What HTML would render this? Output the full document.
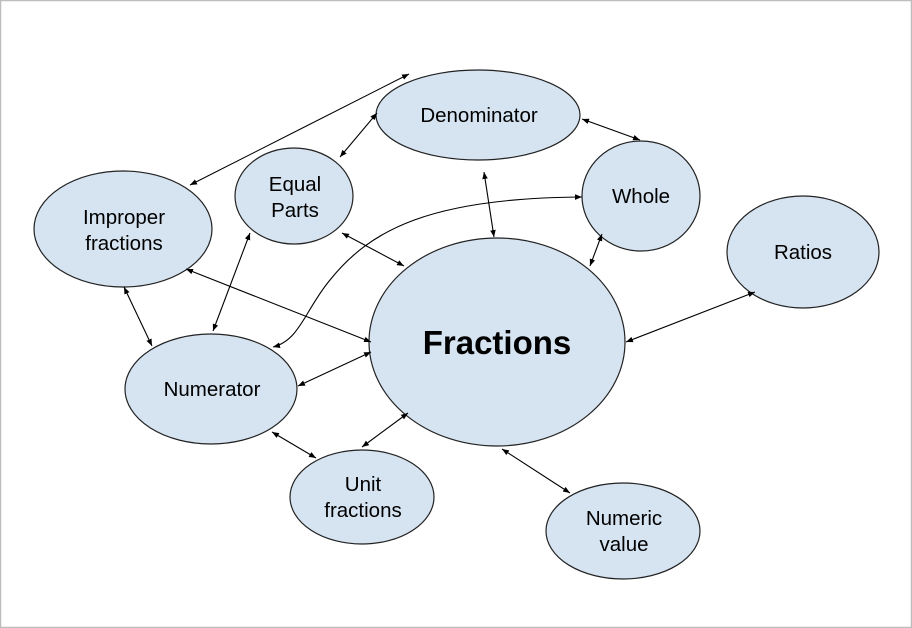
<!DOCTYPE html>
<html><head><style>
html,body{margin:0;padding:0;background:#fff;}
svg{display:block;}
text{font-family:"Liberation Sans",Arial,sans-serif;fill:#000;}
</style></head><body>
<svg width="912" height="628" viewBox="0 0 912 628" xmlns="http://www.w3.org/2000/svg">
<defs>
<marker id="a" viewBox="0 0 10 10" refX="10" refY="5" markerWidth="7" markerHeight="7" orient="auto-start-reverse" markerUnits="userSpaceOnUse">
<path d="M0,1 L10,5 L0,9 z" fill="#000"/>
</marker>
</defs>
<rect x="0.5" y="0.5" width="911" height="627" fill="#fff" stroke="#bdbdbd" stroke-width="1.5"/>
<g fill="#d6e3f1" stroke="#222" stroke-width="1.2">
<ellipse cx="478" cy="115" rx="102" ry="45"/>
<ellipse cx="294" cy="196" rx="59" ry="48"/>
<ellipse cx="123" cy="229" rx="89" ry="58"/>
<ellipse cx="641" cy="196" rx="59" ry="55"/>
<ellipse cx="803" cy="252" rx="76" ry="56"/>
<ellipse cx="497" cy="342" rx="128" ry="104"/>
<ellipse cx="211" cy="389" rx="86" ry="55"/>
<ellipse cx="362" cy="497" rx="72" ry="47"/>
<ellipse cx="623" cy="531" rx="77" ry="48"/>
</g>
<g stroke="#000" stroke-width="1.1" fill="none" marker-start="url(#a)" marker-end="url(#a)">
<line x1="190" y1="185" x2="409" y2="74"/>
<line x1="340" y1="157" x2="377" y2="113"/>
<line x1="582" y1="119" x2="640" y2="140"/>
<line x1="484" y1="172" x2="494" y2="237"/>
<line x1="602" y1="234" x2="590" y2="266"/>
<line x1="342" y1="233" x2="404" y2="266"/>
<line x1="250" y1="233" x2="213" y2="331"/>
<line x1="186" y1="269" x2="371" y2="342"/>
<line x1="124" y1="287" x2="152" y2="346"/>
<path d="M273,347 C300,340 305,310 330,280 C370,230 430,198 582,197"/>
<line x1="371" y1="352" x2="298" y2="386"/>
<line x1="272" y1="432" x2="316" y2="458"/>
<line x1="362" y1="447" x2="408" y2="413"/>
<line x1="502" y1="449" x2="570" y2="493"/>
<line x1="626" y1="342" x2="755" y2="292"/>
</g>
<g font-size="20.5" text-anchor="middle">
<text x="479" y="122">Denominator</text>
<text x="295" y="191">Equal</text>
<text x="295" y="217">Parts</text>
<text x="124" y="224">Improper</text>
<text x="124" y="250">fractions</text>
<text x="641" y="203">Whole</text>
<text x="803" y="259">Ratios</text>
<text x="212" y="396">Numerator</text>
<text x="363" y="491">Unit</text>
<text x="363" y="517">fractions</text>
<text x="624" y="525">Numeric</text>
<text x="624" y="551">value</text>
<text x="497" y="354" font-size="33" font-weight="bold">Fractions</text>
</g>
</svg>
</body></html>
